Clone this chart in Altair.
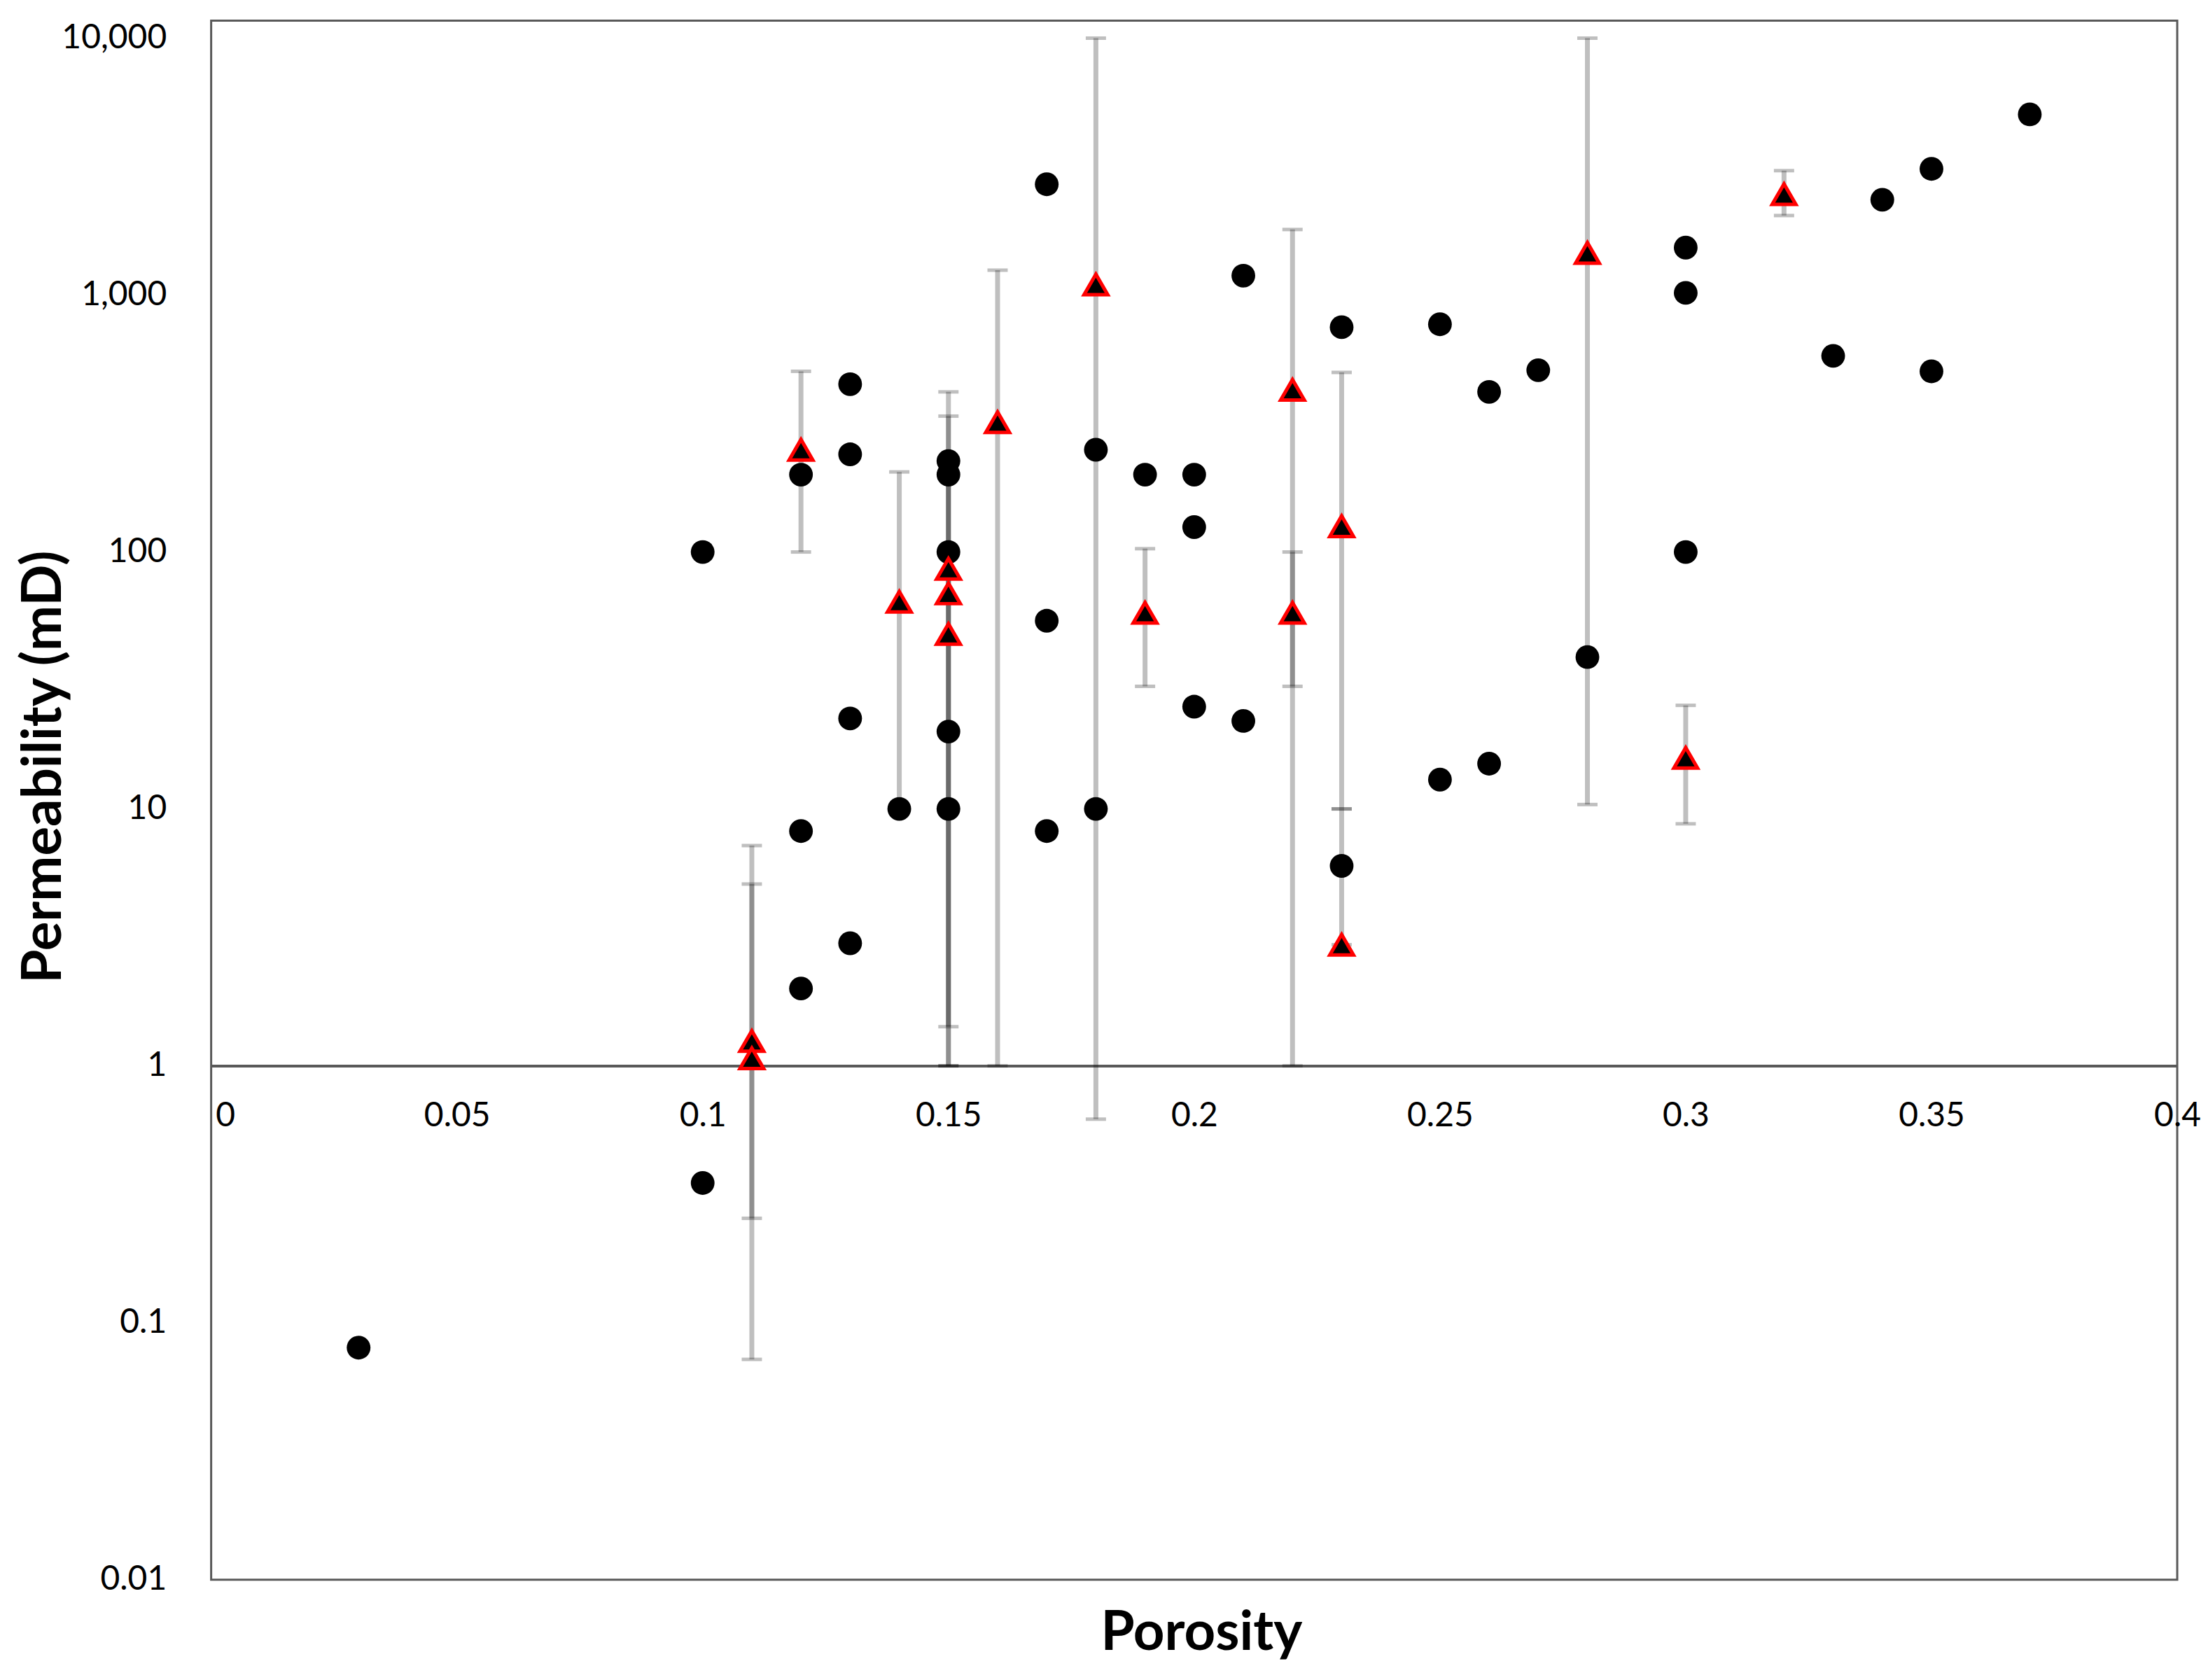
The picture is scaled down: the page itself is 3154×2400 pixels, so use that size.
import math
import altair as alt
import pandas as pd

# ---- data ----
circle_porosity = [0.03, 0.10, 0.10, 0.12, 0.12, 0.12, 0.13, 0.13, 0.13, 0.13, 0.14,
                   0.15, 0.15, 0.15, 0.15, 0.15, 0.17, 0.17, 0.17, 0.18, 0.18, 0.19,
                   0.20, 0.20, 0.20, 0.21, 0.21, 0.23, 0.23, 0.25, 0.25, 0.26, 0.26,
                   0.27, 0.28, 0.30, 0.30, 0.30, 0.33, 0.34, 0.35, 0.35, 0.37]
circle_perm = [0.08, 0.35, 100, 200, 8.2, 2.0, 450, 240, 22.5, 3.0, 10,
               226, 200, 100, 20, 10, 2700, 54, 8.2, 250, 10, 200,
               200, 125, 25, 1190, 22, 750, 6.0, 770, 13, 420, 15,
               510, 39, 1530, 1020, 100, 580, 2350, 3100, 505, 5050]

tri_porosity = [0.11, 0.11, 0.12, 0.14, 0.15, 0.15, 0.15, 0.16, 0.18, 0.19, 0.22,
                0.22, 0.23, 0.23, 0.28, 0.30, 0.32]
tri_perm = [1.25, 1.07, 250, 64, 86, 69, 48, 320, 1100, 58, 428,
            58, 126, 2.96, 1460, 15.8, 2470]
tri_low = [0.072, 0.255, 100, 10, 1.0, 1.42, 1.0, 1.0, 0.62, 30, 1.0,
           30, 10, 2.96, 10.4, 8.75, 2040]
tri_high = [7.2, 5.1, 505, 205, 420, 338, 210, 1250, 10000, 103, 1800,
            100, 500, 10, 10000, 25.3, 3050]

x_tick_values = [0, 0.05, 0.1, 0.15, 0.2, 0.25, 0.3, 0.35, 0.4]
y_tick_values = [0.01, 0.1, 1, 10, 100, 1000, 10000]

# ---- layout ----
W, H = 2812, 2230
YMIN, YMAX = 0.01, 11700
FONT = "Lato"
# x-axis crosses at permeability = 1
x_axis_offset = -H * (math.log10(1) - math.log10(YMIN)) / (math.log10(YMAX) - math.log10(YMIN))

circles = pd.DataFrame({"porosity": circle_porosity, "perm": circle_perm})
tris = pd.DataFrame({"porosity": tri_porosity, "perm": tri_perm,
                     "low": tri_low, "high": tri_high})

xscale = alt.Scale(domain=[0, 0.4], nice=False, zero=False)
yscale = alt.Scale(type="log", domain=[YMIN, YMAX], nice=False)

x_axis = alt.Axis(
    title="Porosity", values=x_tick_values, format="~g",
    offset=x_axis_offset, grid=False, ticks=False, tickSize=0,
    domain=True, domainColor="#595959", domainWidth=4,
    labelFont=FONT, labelFontSize=48, labelColor="#000000",
    labelPadding=72, labelBaseline="middle", labelFlush=False,
    labelOffset={"condition": {"test": "datum.value == 0", "value": 20}, "value": 0},
    titleFont=FONT, titleFontSize=78, titleFontWeight="bold", titleColor="#000000",
    titleX=1416, titleY=812, titleAlign="center", titleBaseline="middle",
    zindex=0,
)
y_axis = alt.Axis(
    title="Permeability (mD)", values=y_tick_values, format=",~g",
    grid=False, ticks=False, tickSize=0, domain=False,
    labelFont=FONT, labelFontSize=48, labelColor="#000000", labelPadding=64,
    titleFont=FONT, titleFontSize=78, titleFontWeight="bold", titleColor="#000000",
    titleAngle=-90, titleX=-238, titleY=1067, titleAlign="center", titleBaseline="middle",
    zindex=0,
)

X = alt.X("porosity:Q", scale=xscale, axis=x_axis)

bars = alt.Chart(tris).mark_rule(color="black", opacity=0.25, strokeWidth=7).encode(
    x=X, y=alt.Y("low:Q", scale=yscale, axis=y_axis), y2="high:Q")
caps_low = alt.Chart(tris).mark_tick(orient="horizontal", size=29, thickness=5,
                                     color="black", opacity=0.25).encode(
    x=X, y=alt.Y("low:Q", scale=yscale, axis=y_axis))
caps_high = alt.Chart(tris).mark_tick(orient="horizontal", size=29, thickness=5,
                                      color="black", opacity=0.25).encode(
    x=X, y=alt.Y("high:Q", scale=yscale, axis=y_axis))

dots = alt.Chart(circles).mark_point(shape="circle", filled=True, fill="black",
                                     size=1150, opacity=1, strokeWidth=0).encode(
    x=X, y=alt.Y("perm:Q", scale=yscale, axis=y_axis))

triangles = alt.Chart(tris).mark_point(shape="triangle-up", filled=True, fill="black",
                                       stroke="#ff0000", strokeWidth=5, size=1150,
                                       opacity=1, fillOpacity=1, strokeOpacity=1).encode(
    x=X, y=alt.Y("perm:Q", scale=yscale, axis=y_axis))

chart = alt.layer(bars, caps_low, caps_high, dots, triangles).properties(
    width=W, height=H,
    padding={"left": 294, "top": 20, "right": 36, "bottom": 140},
    autosize=alt.AutoSizeParams(type="none"),
    background="white",
).configure_view(stroke="#595959", strokeWidth=3)

chart.save("out.html", embed_options={"renderer": "svg", "actions": False})
